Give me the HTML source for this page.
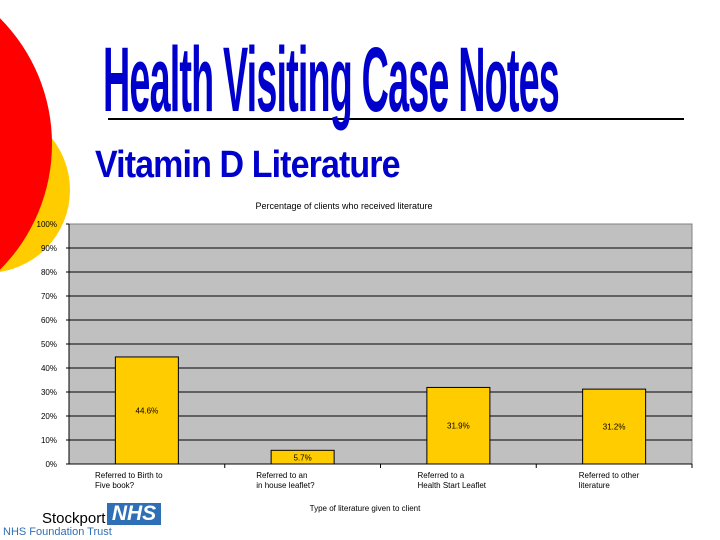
<!DOCTYPE html>
<html><head><meta charset="utf-8"><style>
body{margin:0;width:720px;height:540px;overflow:hidden;background:#fff;font-family:"Liberation Sans",sans-serif;position:relative}
.abs{position:absolute}
</style></head><body>
<svg class="abs" style="left:0;top:0" width="720" height="540">
<circle cx="-13" cy="190" r="83" fill="#FFCC00"/>
<circle cx="-126" cy="144" r="178" fill="#FF0000"/>
<line x1="108" y1="119" x2="684" y2="119" stroke="#000" stroke-width="2"/>
</svg>
<div class="abs" style="left:103px;top:28px;font-size:92px;font-weight:bold;color:#0000CC;transform:scaleX(0.41);transform-origin:0 0;white-space:nowrap;letter-spacing:-2px">Health Visiting Case Notes</div>
<div class="abs" style="left:95px;top:144px;font-size:38px;font-weight:bold;color:#0000CC;transform:scaleX(0.895);transform-origin:0 0;white-space:nowrap;letter-spacing:-1px">Vitamin D Literature</div>
<svg id="chart" class="abs" style="left:0;top:0" width="720" height="540"></svg>
<div class="abs" style="left:42px;top:510px;font-size:15px;color:#000">Stockport</div>
<div class="abs" style="left:107px;top:503px;width:54px;height:22px;background:#2F6FB5;color:#fff;font-weight:bold;font-style:italic;font-size:21px;line-height:22px;text-align:center">NHS</div>
<div class="abs" style="left:3px;top:526px;font-size:11px;color:#2F6FB5">NHS Foundation Trust</div>
<script>
const categories=[["Referred to Birth to","Five book?"],["Referred to an","in house leaflet?"],["Referred to a","Health Start Leaflet"],["Referred to other","literature"]];
const values=[44.6,5.7,31.9,31.2];
const labels=["44.6%","5.7%","31.9%","31.2%"];
const ticks=[0,10,20,30,40,50,60,70,80,90,100];
const svg=document.getElementById('chart');const NS="http://www.w3.org/2000/svg";
const L=69,R=692,T=224,B=464;
const y=v=>B-(v/100)*(B-T);
const bw=(R-L)/categories.length;
const x=i=>L+bw*i;
function mk(t,a,p){const e=document.createElementNS(NS,t);for(const k in a)e.setAttribute(k,a[k]);(p||svg).appendChild(e);return e;}
let e=mk('rect',{x:L,y:T,width:R-L,height:B-T,fill:"#C0C0C0",stroke:"#808080"});


ticks.forEach(t=>{
 if(t>0&&t<100){let g=mk('line',{x1:L,x2:R,y1:y(t),y2:y(t),stroke:"#000","stroke-width":1});
 
 }
 let tx=mk('text',{x:57,y:y(t)+3,"font-size":"8","text-anchor":"end",fill:"#000"});tx.textContent=t+"%";
 
 
 mk('line',{x1:L-3,x2:L,y1:y(t),y2:y(t),stroke:"#000"});
});
mk('line',{x1:L,x2:L,y1:T,y2:B,stroke:"#000"});
mk('line',{x1:L,x2:R,y1:B,y2:B,stroke:"#000"});
values.forEach((v,i)=>{
 const cx=x(i)+bw/2;
 let r=mk('rect',{x:cx-31.5,y:y(v),width:63,height:B-y(v),fill:"#FFCC00",stroke:"#000","stroke-width":1});
 
 
 let lt=mk('text',{x:cx,y:v>20?y(v/2)+3:y(v)+10,"font-size":"8","text-anchor":"middle",fill:"#000"});lt.textContent=labels[i];
 
 
 mk('line',{x1:x(i+1),x2:x(i+1),y1:B,y2:B+4,stroke:"#000"});
 categories[i].forEach((s,j)=>{let c=mk('text',{x:x(i)+26+i*5.5,y:478+j*10,"font-size":"8",fill:"#000"});c.textContent=s;
 
 });
});
let ct=mk('text',{x:344,y:209,"font-size":"9","text-anchor":"middle"});ct.textContent="Percentage of clients who received literature";


let xt=mk('text',{x:365,y:511,"font-size":"8","text-anchor":"middle"});xt.textContent="Type of literature given to client";


</script>
</body></html>
